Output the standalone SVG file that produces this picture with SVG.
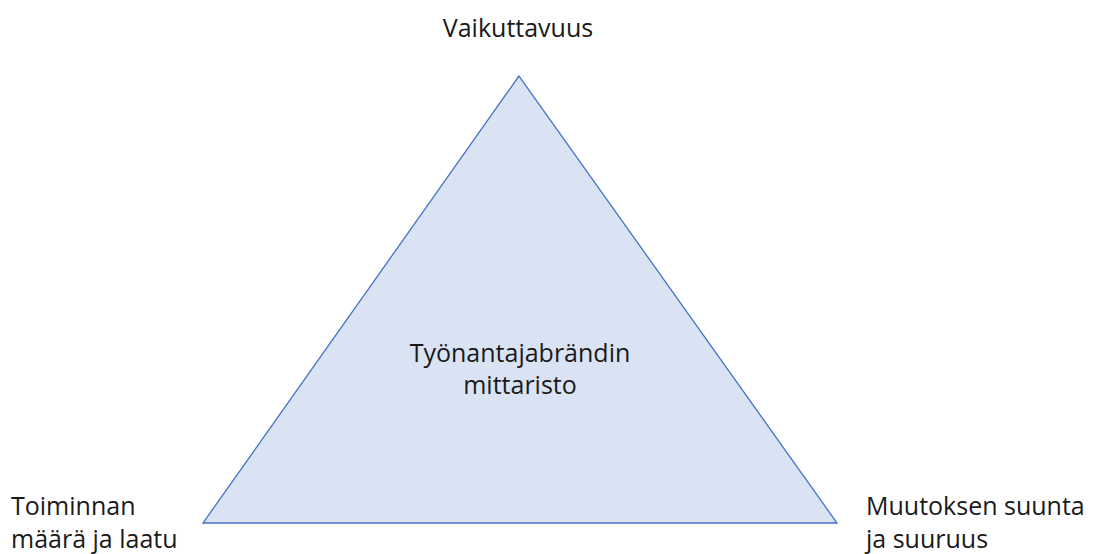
<svg xmlns="http://www.w3.org/2000/svg" width="1094" height="554" viewBox="0 0 1094 554">
<style>
.t{font-family:"Open Sans","Noto Sans","Liberation Sans",sans-serif;font-size:25px;fill:#1a1a1a}
</style>
<rect width="1094" height="554" fill="#ffffff"/>
<g id="triangle">
<polygon points="519,76 203,523 837,523" fill="#dae3f3" stroke="#4472c4" stroke-width="1.3"/>
<text class="t" x="520" y="362" text-anchor="middle">Työnantajabrändin</text>
<text class="t" x="520" y="394" text-anchor="middle">mittaristo</text>
</g>
<g id="top">
<text class="t" x="518" y="37" text-anchor="middle">Vaikuttavuus</text>
</g>
<g id="left">
<text class="t" x="11" y="515">Toiminnan</text>
<text class="t" x="11" y="548">määrä ja laatu</text>
</g>
<g id="right">
<text class="t" x="866" y="515">Muutoksen suunta</text>
<text class="t" x="866" y="548">ja suuruus</text>
</g>
<g id="connectors"></g>
</svg>
